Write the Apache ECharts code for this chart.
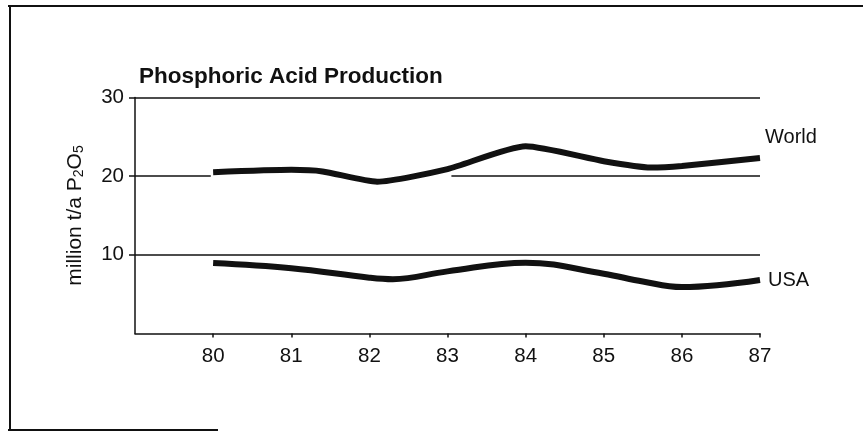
<!DOCTYPE html>
<html>
<head>
<meta charset="utf-8">
<script src="https://cdn.jsdelivr.net/npm/echarts@6/dist/echarts.min.js"></script>
<style>
  html, body { margin: 0; padding: 0; background: #fff; }
  #chart { width: 863px; height: 432px; }
</style>
</head>
<body>
<div id="chart"></div>
<script>
// values (year 19xx, million t/a P2O5)
const worldYears = [80, 81, 81.4, 82.1, 83, 84, 85, 85.6, 86, 87];
const worldValues = [20.5, 20.8, 20.6, 19.3, 20.9, 23.8, 21.9, 21.1, 21.3, 22.3];
const usaYears = [80, 81, 82, 82.3, 83, 84, 85, 85.5, 86, 87];
const usaValues = [8.95, 8.3, 7.1, 6.9, 7.9, 9.0, 7.6, 6.6, 5.9, 6.8];
const xTicks = [80, 81, 82, 83, 84, 85, 86, 87];
const yTicks = [10, 20, 30];
// horizontal rules: [value, from, to] (the 20 rule is broken behind the World curve)
const gridRules = [
  [30, 79, 87],
  [20, 79, 79.97],
  [20, 83.05, 87],
  [10, 79, 87],
];

const ink = '#111';
const font = '"Liberation Sans", Arial, sans-serif';

const chart = echarts.init(document.getElementById('chart'));

const pairs = (xs, ys) => xs.map((x, i) => [x, ys[i]]);

chart.setOption({
  animation: false,
  backgroundColor: '#fff',
  textStyle: { fontFamily: font, color: ink },
  title: {
    text: 'Phosphoric Acid Production',
    left: 134,
    top: 60,
    textStyle: { fontFamily: font, fontWeight: 'bold', fontSize: 22.5, color: ink },
  },
  grid: { left: 135, right: 103, top: 97.5, bottom: 98.5 },
  xAxis: {
    type: 'value',
    min: 79,
    max: 87,
    interval: 1,
    axisLine: { lineStyle: { color: ink, width: 1.5 } },
    axisTick: { customValues: xTicks, length: 4, lineStyle: { color: ink, width: 1.5 } },
    axisLabel: { customValues: xTicks, margin: 12, fontSize: 20.5, color: ink, fontFamily: font },
    splitLine: { show: false },
  },
  yAxis: {
    type: 'value',
    min: 0,
    max: 30,
    interval: 10,
    name: 'million t/a P{sub|2}O{sub|5}',
    nameLocation: 'middle',
    nameGap: 49,
    nameTextStyle: {
      fontSize: 21,
      color: ink,
      fontFamily: font,
      rich: { sub: { fontSize: 14, verticalAlign: 'bottom', padding: [6, 0, 0, 0], color: ink, fontFamily: font } },
    },
    axisLine: { show: true, lineStyle: { color: ink, width: 1.5 } },
    axisTick: { show: true, customValues: yTicks, length: 6, lineStyle: { color: ink, width: 1.5 } },
    axisLabel: { customValues: yTicks, margin: 11, fontSize: 20.5, color: ink, fontFamily: font },
    splitLine: { show: false },
  },
  graphic: [
    { type: 'line', shape: { x1: 8, y1: 6, x2: 863, y2: 6 }, style: { stroke: ink, lineWidth: 2 } },
    { type: 'line', shape: { x1: 10, y1: 5, x2: 10, y2: 431 }, style: { stroke: ink, lineWidth: 2 } },
    { type: 'line', shape: { x1: 8, y1: 430, x2: 218, y2: 430 }, style: { stroke: ink, lineWidth: 2 } },
  ],
  series: [
    {
      name: 'rules',
      type: 'line',
      data: [],
      silent: true,
      z: 1,
      markLine: {
        silent: true,
        symbol: 'none',
        label: { show: false },
        lineStyle: { color: ink, width: 1.5, type: 'solid' },
        data: gridRules.map(([v, a, b]) => [{ coord: [a, v] }, { coord: [b, v] }]),
      },
    },
    {
      name: 'World',
      type: 'line',
      data: pairs(worldYears, worldValues),
      smooth: 0.2,
      showSymbol: false,
      z: 3,
      lineStyle: { color: ink, width: 6, cap: 'butt' },
      endLabel: {
        show: true,
        formatter: 'World',
        distance: 5,
        offset: [0, -21],
        fontSize: 20,
        color: ink,
        fontFamily: font,
      },
    },
    {
      name: 'USA',
      type: 'line',
      data: pairs(usaYears, usaValues),
      smooth: 0.4,
      showSymbol: false,
      z: 3,
      lineStyle: { color: ink, width: 6, cap: 'butt' },
      endLabel: {
        show: true,
        formatter: 'USA',
        distance: 8,
        fontSize: 20,
        color: ink,
        fontFamily: font,
      },
    },
  ],
});
</script>
</body>
</html>
